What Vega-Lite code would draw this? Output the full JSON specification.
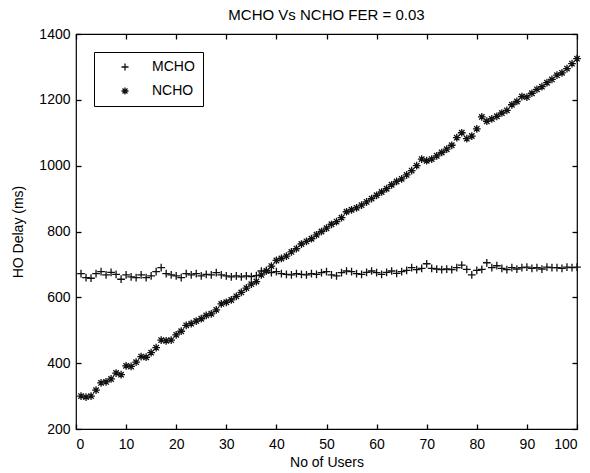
{
  "$schema": "https://vega.github.io/schema/vega-lite/v6.json",
  "width": 501,
  "height": 395,
  "autosize": "none",
  "padding": {"left": 76, "top": 34, "right": 13, "bottom": 44},
  "background": "white",
  "title": {"text": "MCHO Vs NCHO FER = 0.03", "font": "Liberation Sans", "fontSize": 15, "fontWeight": "normal", "color": "black", "offset": 4},
  "data": {"values": [
    {"u":1,"MCHO":672,"NCHO":300},{"u":2,"MCHO":660,"NCHO":297},{"u":3,"MCHO":658,"NCHO":300},{"u":4,"MCHO":672,"NCHO":318},{"u":5,"MCHO":678,"NCHO":340},
    {"u":6,"MCHO":668,"NCHO":343},{"u":7,"MCHO":676,"NCHO":352},{"u":8,"MCHO":670,"NCHO":370},{"u":9,"MCHO":655,"NCHO":365},{"u":10,"MCHO":668,"NCHO":392},
    {"u":11,"MCHO":662,"NCHO":390},{"u":12,"MCHO":660,"NCHO":403},{"u":13,"MCHO":668,"NCHO":420},{"u":14,"MCHO":660,"NCHO":418},{"u":15,"MCHO":665,"NCHO":432},
    {"u":16,"MCHO":678,"NCHO":447},{"u":17,"MCHO":690,"NCHO":470},{"u":18,"MCHO":672,"NCHO":468},{"u":19,"MCHO":668,"NCHO":470},{"u":20,"MCHO":665,"NCHO":486},
    {"u":21,"MCHO":660,"NCHO":497},{"u":22,"MCHO":672,"NCHO":515},{"u":23,"MCHO":668,"NCHO":520},{"u":24,"MCHO":672,"NCHO":528},{"u":25,"MCHO":665,"NCHO":535},
    {"u":26,"MCHO":670,"NCHO":545},{"u":27,"MCHO":668,"NCHO":550},{"u":28,"MCHO":675,"NCHO":562},{"u":29,"MCHO":668,"NCHO":580},{"u":30,"MCHO":665,"NCHO":585},
    {"u":31,"MCHO":662,"NCHO":592},{"u":32,"MCHO":665,"NCHO":603},{"u":33,"MCHO":662,"NCHO":615},{"u":34,"MCHO":665,"NCHO":628},{"u":35,"MCHO":663,"NCHO":640},
    {"u":36,"MCHO":666,"NCHO":648},{"u":37,"MCHO":680,"NCHO":668},{"u":38,"MCHO":682,"NCHO":680},{"u":39,"MCHO":675,"NCHO":695},{"u":40,"MCHO":678,"NCHO":712},
    {"u":41,"MCHO":672,"NCHO":718},{"u":42,"MCHO":670,"NCHO":725},{"u":43,"MCHO":668,"NCHO":738},{"u":44,"MCHO":672,"NCHO":748},{"u":45,"MCHO":670,"NCHO":762},
    {"u":46,"MCHO":668,"NCHO":770},{"u":47,"MCHO":672,"NCHO":778},{"u":48,"MCHO":670,"NCHO":790},{"u":49,"MCHO":675,"NCHO":800},{"u":50,"MCHO":678,"NCHO":810},
    {"u":51,"MCHO":668,"NCHO":822},{"u":52,"MCHO":665,"NCHO":830},{"u":53,"MCHO":675,"NCHO":842},{"u":54,"MCHO":680,"NCHO":860},{"u":55,"MCHO":678,"NCHO":866},
    {"u":56,"MCHO":672,"NCHO":872},{"u":57,"MCHO":670,"NCHO":880},{"u":58,"MCHO":676,"NCHO":890},{"u":59,"MCHO":680,"NCHO":900},{"u":60,"MCHO":675,"NCHO":910},
    {"u":61,"MCHO":670,"NCHO":920},{"u":62,"MCHO":676,"NCHO":930},{"u":63,"MCHO":680,"NCHO":942},{"u":64,"MCHO":673,"NCHO":952},{"u":65,"MCHO":678,"NCHO":960},
    {"u":66,"MCHO":682,"NCHO":972},{"u":67,"MCHO":690,"NCHO":985},{"u":68,"MCHO":684,"NCHO":1000},{"u":69,"MCHO":688,"NCHO":1020},{"u":70,"MCHO":702,"NCHO":1015},
    {"u":71,"MCHO":688,"NCHO":1020},{"u":72,"MCHO":686,"NCHO":1030},{"u":73,"MCHO":684,"NCHO":1040},{"u":74,"MCHO":686,"NCHO":1050},{"u":75,"MCHO":684,"NCHO":1062},
    {"u":76,"MCHO":690,"NCHO":1085},{"u":77,"MCHO":698,"NCHO":1100},{"u":78,"MCHO":685,"NCHO":1082},{"u":79,"MCHO":668,"NCHO":1090},{"u":80,"MCHO":682,"NCHO":1112},
    {"u":81,"MCHO":685,"NCHO":1148},{"u":82,"MCHO":705,"NCHO":1135},{"u":83,"MCHO":690,"NCHO":1142},{"u":84,"MCHO":696,"NCHO":1150},{"u":85,"MCHO":688,"NCHO":1160},
    {"u":86,"MCHO":684,"NCHO":1168},{"u":87,"MCHO":690,"NCHO":1185},{"u":88,"MCHO":686,"NCHO":1195},{"u":89,"MCHO":690,"NCHO":1210},{"u":90,"MCHO":692,"NCHO":1208},
    {"u":91,"MCHO":688,"NCHO":1220},{"u":92,"MCHO":690,"NCHO":1232},{"u":93,"MCHO":686,"NCHO":1240},{"u":94,"MCHO":692,"NCHO":1252},{"u":95,"MCHO":690,"NCHO":1262},
    {"u":96,"MCHO":690,"NCHO":1275},{"u":97,"MCHO":688,"NCHO":1282},{"u":98,"MCHO":692,"NCHO":1295},{"u":99,"MCHO":690,"NCHO":1310},{"u":100,"MCHO":692,"NCHO":1325}
  ]},
  "transform": [{"fold": ["MCHO", "NCHO"], "as": ["series", "delay"]}],
  "layer": [
    {
      "mark": {"type": "point", "filled": false, "color": "#111", "strokeWidth": 1.3, "size": 60, "opacity": 1},
      "encoding": {
        "x": {"field": "u", "type": "quantitative", "scale": {"domain": [0, 100], "nice": false},
              "axis": {"orient": "bottom", "title": "No of Users", "values": [0,10,20,30,40,50,60,70,80,90,100], "labelPadding": 8, "titlePadding": 4}},
        "y": {"field": "delay", "type": "quantitative", "scale": {"domain": [200, 1400], "nice": false, "zero": false},
              "axis": {"orient": "left", "title": "HO Delay (ms)", "format": "d", "values": [200,400,600,800,1000,1200,1400], "labelPadding": 6, "titlePadding": 13}},
        "shape": {"field": "series", "type": "nominal",
                  "scale": {"domain": ["MCHO", "NCHO"], "range": ["M-1,0L1,0M0,-1L0,1", "M-1,0L1,0M0,-1L0,1M-0.7,-0.7L0.7,0.7M-0.7,0.7L0.7,-0.7"]},
                  "legend": {"title": null, "orient": "top-left", "offset": 18, "strokeColor": "black", "fillColor": "white", "padding": 8,
                             "symbolOffset": 16, "labelOffset": 20, "rowPadding": 10, "symbolStrokeColor": "#111", "symbolStrokeWidth": 1.3, "symbolSize": 50,
                             "labelFont": "Liberation Sans", "labelFontSize": 14, "labelColor": "black"}}
      }
    },
    {
      "mark": {"type": "point", "opacity": 0},
      "encoding": {
        "x": {"field": "u", "type": "quantitative", "scale": {"domain": [0, 100], "nice": false},
              "axis": {"orient": "top", "title": null, "labels": false, "values": [0,10,20,30,40,50,60,70,80,90,100]}},
        "y": {"field": "delay", "type": "quantitative", "scale": {"domain": [200, 1400], "nice": false, "zero": false},
              "axis": {"orient": "right", "title": null, "labels": false, "values": [200,400,600,800,1000,1200,1400]}}
      }
    }
  ],
  "resolve": {"axis": {"x": "independent", "y": "independent"}},
  "config": {
    "view": {"stroke": "black", "strokeWidth": 1.2},
    "axis": {"grid": false, "domain": false, "offset": -5, "ticks": true, "tickColor": "black", "tickSize": 5, "tickWidth": 1.3,
             "labelFont": "Liberation Sans", "labelFontSize": 14, "labelColor": "black",
             "titleFont": "Liberation Sans", "titleFontSize": 14, "titleFontWeight": "normal", "titleColor": "black"}
  }
}
